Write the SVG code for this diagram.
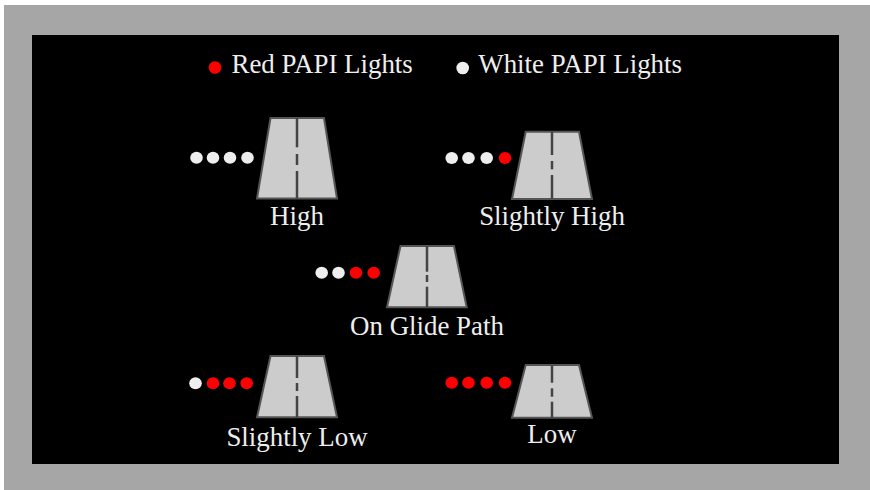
<svg xmlns="http://www.w3.org/2000/svg" width="870" height="490" viewBox="0 0 870 490">
<style>
.lbl{font-family:"Liberation Serif","Times New Roman",serif;font-size:26.9px;fill:#eeeeee}
.rw{fill:#cccccc;stroke:#555555;stroke-width:2}
.cl{stroke:#444444;stroke-width:2.5}
.w{fill:#eeeeee}
.r{fill:#ff0000}
</style>
<rect x="0" y="0" width="870" height="490" fill="#ffffff"/>
<rect x="4" y="5" width="866" height="485" fill="#a6a6a6"/>
<rect x="32" y="35" width="807" height="429" fill="#000000"/>
<g id="legend">
<circle class="r" cx="215" cy="67.5" r="6.3"/>
<text class="lbl" x="231.5" y="73">Red PAPI Lights</text>
<circle class="w" cx="462.7" cy="68" r="6.3"/>
<text class="lbl" x="478.3" y="73">White PAPI Lights</text>
</g>
<g id="connectors"/>
<g id="high">
<polygon class="rw" points="270.5,118 324,118 337,198.5 257,198.5"/>
<line class="cl" x1="297" y1="118" x2="297" y2="147.3"/>
<line class="cl" x1="297" y1="154" x2="297" y2="165"/>
<line class="cl" x1="297" y1="171" x2="297" y2="198.5"/>
<ellipse class="w" cx="196.5" cy="157.7" rx="6.3" ry="6"/>
<ellipse class="w" cx="213" cy="157.7" rx="6.3" ry="6"/>
<ellipse class="w" cx="230" cy="157.7" rx="6.3" ry="6"/>
<ellipse class="w" cx="247.5" cy="157.7" rx="6.3" ry="6"/>
<text class="lbl" x="297" y="225" text-anchor="middle">High</text>
</g>
<g id="slightly-high">
<polygon class="rw" points="525.7,131.7 579,131.7 592,199 512,199"/>
<line class="cl" x1="552" y1="131.7" x2="552" y2="155"/>
<line class="cl" x1="552" y1="161" x2="552" y2="169.3"/>
<line class="cl" x1="552" y1="175" x2="552" y2="199"/>
<ellipse class="w" cx="451.7" cy="158" rx="6.3" ry="6"/>
<ellipse class="w" cx="468.5" cy="158" rx="6.3" ry="6"/>
<ellipse class="w" cx="486.7" cy="158" rx="6.3" ry="6"/>
<ellipse class="r" cx="505" cy="158" rx="6.3" ry="6"/>
<text class="lbl" x="552" y="225" text-anchor="middle">Slightly High</text>
</g>
<g id="on-glide-path">
<polygon class="rw" points="400.5,246 454,246 466.7,307.3 387,307.3"/>
<line class="cl" x1="427" y1="246" x2="427" y2="271.7"/>
<line class="cl" x1="427" y1="275" x2="427" y2="282"/>
<line class="cl" x1="427" y1="286.7" x2="427" y2="307.3"/>
<ellipse class="w" cx="321.7" cy="272.7" rx="6.3" ry="6"/>
<ellipse class="w" cx="338.5" cy="272.7" rx="6.3" ry="6"/>
<ellipse class="r" cx="356" cy="272.7" rx="6.3" ry="6"/>
<ellipse class="r" cx="373.7" cy="272.7" rx="6.3" ry="6"/>
<text class="lbl" x="427" y="335" text-anchor="middle">On Glide Path</text>
</g>
<g id="slightly-low">
<polygon class="rw" points="270.5,356 324,356 337,417.3 257,417.3"/>
<line class="cl" x1="297" y1="356" x2="297" y2="378"/>
<line class="cl" x1="297" y1="383" x2="297" y2="391"/>
<line class="cl" x1="297" y1="396" x2="297" y2="417.3"/>
<ellipse class="w" cx="195.5" cy="383.3" rx="6.3" ry="6"/>
<ellipse class="r" cx="213" cy="383.3" rx="6.3" ry="6"/>
<ellipse class="r" cx="229.5" cy="383.3" rx="6.3" ry="6"/>
<ellipse class="r" cx="246.7" cy="383.3" rx="6.3" ry="6"/>
<text class="lbl" x="297" y="445.5" text-anchor="middle">Slightly Low</text>
</g>
<g id="low">
<polygon class="rw" points="525.7,365 579,365 592,417.7 512,417.7"/>
<line class="cl" x1="552" y1="365" x2="552" y2="382.7"/>
<line class="cl" x1="552" y1="388.3" x2="552" y2="396.7"/>
<line class="cl" x1="552" y1="401.7" x2="552" y2="417.7"/>
<ellipse class="r" cx="451.7" cy="382.7" rx="6.3" ry="6"/>
<ellipse class="r" cx="468.5" cy="382.7" rx="6.3" ry="6"/>
<ellipse class="r" cx="486.7" cy="382.7" rx="6.3" ry="6"/>
<ellipse class="r" cx="505" cy="382.7" rx="6.3" ry="6"/>
<text class="lbl" x="552" y="443.3" text-anchor="middle">Low</text>
</g>
</svg>
